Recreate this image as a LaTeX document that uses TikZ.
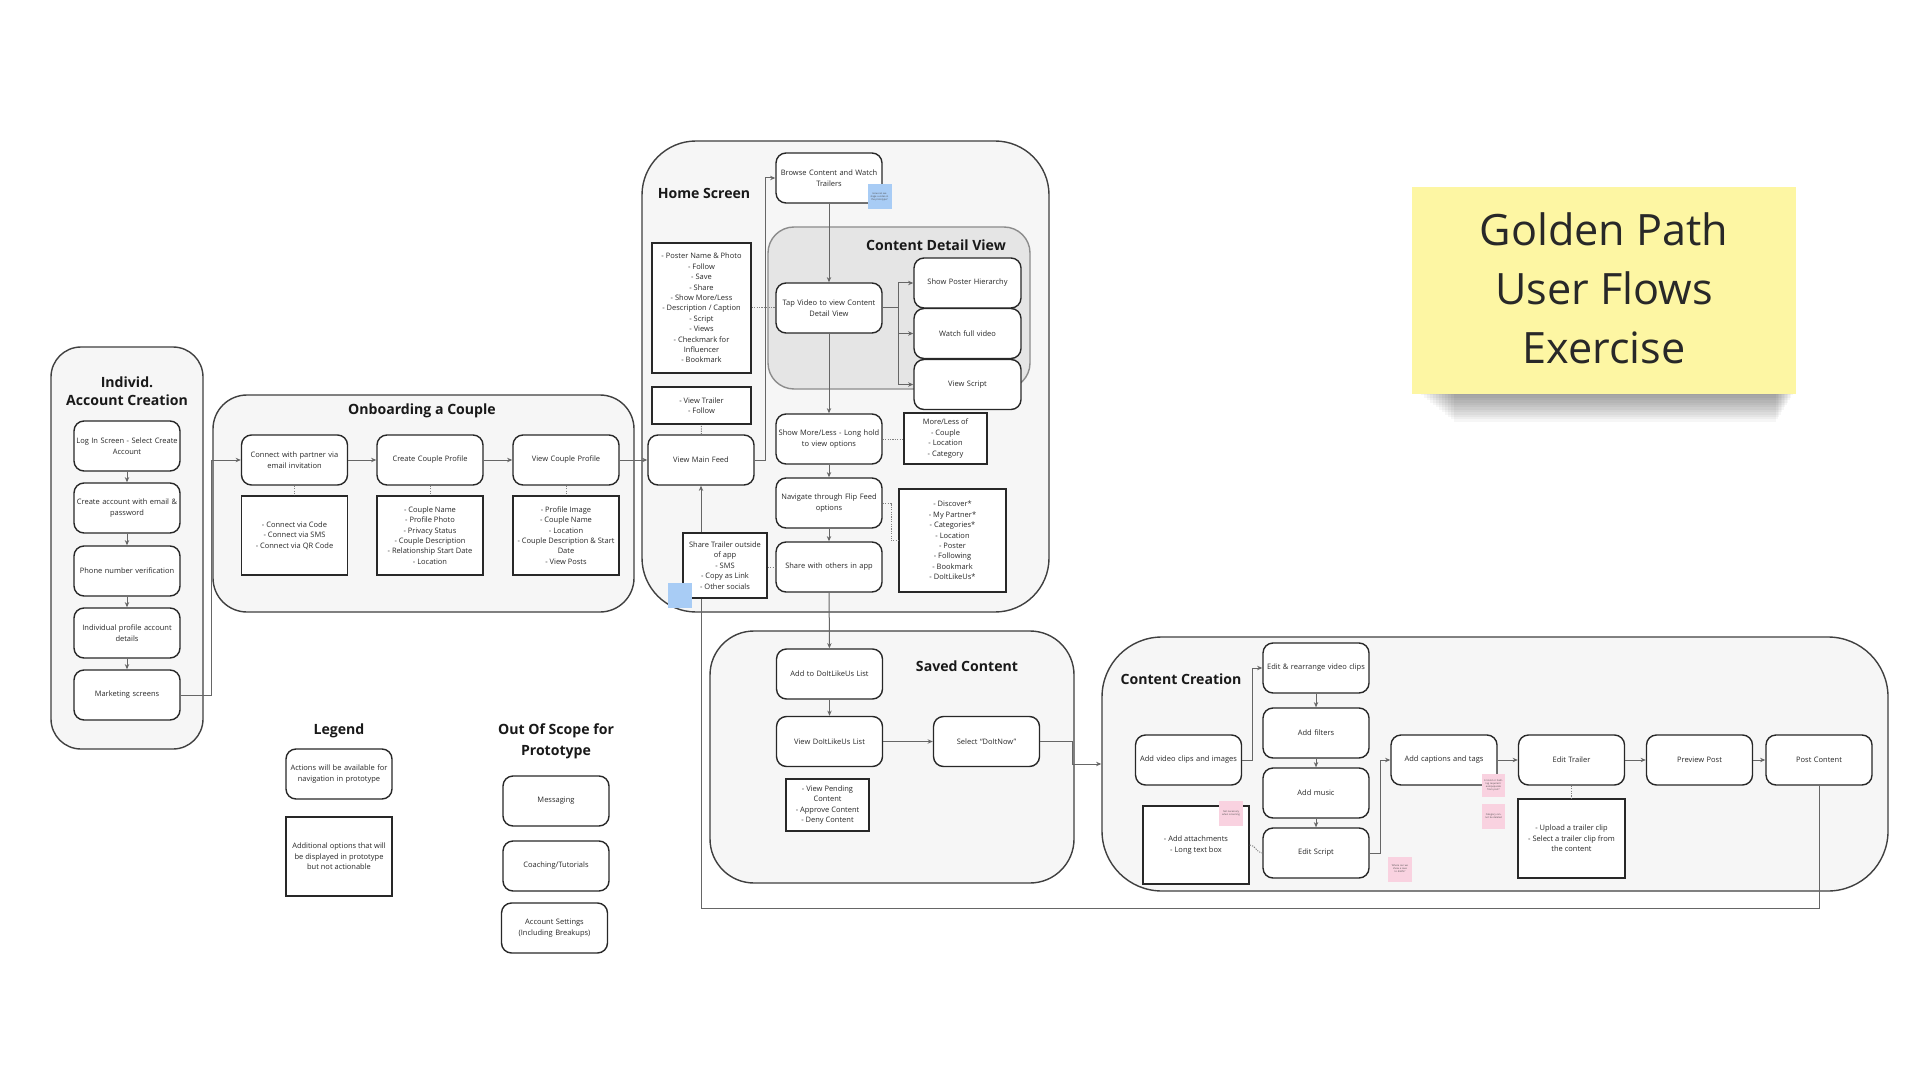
\documentclass[tikz,border=0pt]{standalone}
\usepackage{fontspec}
\setmainfont{Open Sans}
\usetikzlibrary{arrows.meta,calc}
\pgfdeclarelayer{back}
\pgfdeclarelayer{mid}
\pgfsetlayers{back,mid,main}
\definecolor{pinkS}{RGB}{249,210,224}
\definecolor{blueS}{RGB}{168,204,245}
\definecolor{yelS}{RGB}{253,246,163}
\definecolor{contfill}{RGB}{246,246,246}
\definecolor{cdvfill}{RGB}{229,229,229}
\definecolor{ink}{RGB}{40,40,40}
\begin{document}
\begin{tikzpicture}[x=0.5pt,y=-0.5pt,
  every node/.style={font=\fontsize{3.75}{5.2}\selectfont, text=ink},
  act/.style={draw=ink, line width=0.7pt, rounded corners=5pt, fill=white, align=center,
    minimum width=53pt, minimum height=25pt, text width=53pt, inner sep=0pt},
  opt/.style={draw=ink, line width=0.7pt, fill=white, align=center, inner sep=0pt},
  cont/.style={draw=black!75, line width=0.7pt, fill=contfill, inner sep=0pt},
  ttl/.style={font=\fontsize{7.05}{9}\selectfont\bfseries, text=black!90, align=center},
  flow/.style={draw=black!60, line width=0.5pt, -{Stealth[length=2.6pt,width=2.2pt]}},
  plain/.style={draw=black!60, line width=0.5pt},
  link/.style={draw=black!50, line width=0.5pt, dash pattern=on 0.6pt off 0.6pt},
  sticky/.style={fill=#1, minimum width=12pt, minimum height=12.5pt, inner sep=0.3pt,
    text width=11pt, align=center, font=\fontsize{1.2}{1.5}\selectfont, text=black!70}
]
\begin{pgfonlayer}{back}
\path[use as bounding box, fill=white] (0,0) rectangle (1920,1080);
% ---------- containers ----------
\node[cont, rounded corners=15pt, minimum width=76pt, minimum height=201pt] (ind) at (127,548) {};
\node[cont, rounded corners=17pt, minimum width=210.5pt, minimum height=108.5pt] (onb) at (423.5,503.5) {};
\node[cont, rounded corners=27pt, minimum width=203.5pt, minimum height=235.5pt] (home) at (845.5,376.5) {};
\node[cont, draw=black!45, fill=cdvfill, rounded corners=13pt, minimum width=131pt, minimum height=81pt] (cdv) at (899,308) {};
\node[cont, rounded corners=22pt, minimum width=182pt, minimum height=126pt] (saved) at (892,757) {};
\node[cont, rounded corners=30pt, minimum width=393pt, minimum height=127pt] (cc) at (1495,764) {};
\end{pgfonlayer}

% ---------- titles ----------
\node[ttl] (tind) at (127,391) {Individ.\\Account Creation};
\node[ttl] (tonb) at (422,411) {Onboarding a Couple};
\node[ttl] (thome) at (704,193) {Home Screen};
\node[ttl] (tcdv) at (936,245) {Content Detail View};
\node[ttl] (tsav) at (967,666) {Saved Content};
\node[ttl] (tcc) at (1181,679) {Content Creation};
\node[ttl] (tleg) at (339,731) {Legend};
\node[ttl, font=\fontsize{7.05}{10.5}\selectfont\bfseries] (toos) at (556,741.5) {Out Of Scope for\\Prototype};

% ---------- coordinates for routing ----------
\coordinate (jx) at (211,0);
\coordinate (hx) at (765,0);
\coordinate (tx) at (898,0);
\coordinate (nx) at (891,0);
\coordinate (ry) at (0,908);
\coordinate (sx) at (1072,0);
\coordinate (ax) at (1252,0);
\coordinate (ex) at (1380,0);

% ---------- action nodes ----------
\node[act] (i1) at (127,446) {Log In Screen - Select Create\\Account};
\node[act] (i2) at (127,508) {Create account with email \&\\password};
\node[act] (i3) at (127,571) {Phone number verification};
\node[act] (i4) at (127,633) {Individual profile account\\details};
\node[act] (i5) at (127,695) {Marketing screens};

\node[act] (o1) at (294.5,460) {Connect with partner via\\email invitation};
\node[act] (o2) at (430,460) {Create Couple Profile};
\node[act] (o3) at (566,460) {View Couple Profile};
\node[opt, minimum width=53pt, minimum height=39.5pt] (o1d) at (294.5,535.5) {- Connect via Code\\- Connect via SMS\\- Connect via QR Code};
\node[opt, minimum width=53pt, minimum height=39.5pt] (o2d) at (430,535.5) {- Couple Name\\- Profile Photo\\- Privacy Status\\- Couple Description\\- Relationship Start Date\\- Location};
\node[opt, minimum width=53pt, minimum height=39.5pt] (o3d) at (566,535.5) {- Profile Image\\- Couple Name\\- Location\\- Couple Description \& Start\\Date\\- View Posts};

\node[act] (browse) at (829,178) {Browse Content and Watch\\Trailers};
\node[act] (tap) at (829,308) {Tap Video to view Content\\Detail View};
\node[act, minimum width=53.5pt] (sph) at (967.5,283) {Show Poster Hierarchy};
\node[act, minimum width=53.5pt] (wfv) at (967.5,333.5) {Watch full video};
\node[act, minimum width=53.5pt] (vs) at (967.5,384.5) {View Script};
\node[opt, minimum width=49.5pt, minimum height=65pt] (plist) at (701.5,308) {- Poster Name \& Photo\\- Follow\\- Save\\- Share\\- Show More/Less\\- Description / Caption\\- Script\\- Views\\- Checkmark for\\Influencer\\- Bookmark};
\node[opt, minimum width=49.5pt, minimum height=18.5pt] (tlist) at (701.5,405.5) {- View Trailer\\- Follow};
\node[act] (vmf) at (701,460) {View Main Feed};
\node[act] (sml) at (829,439) {Show More/Less - Long hold\\to view options};
\node[opt, minimum width=41.5pt, minimum height=25.5pt] (mlo) at (945.5,438.5) {More/Less of\\- Couple\\- Location\\- Category};
\node[act] (nav) at (829,503) {Navigate through Flip Feed\\options};
\node[opt, minimum width=53.5pt, minimum height=51.5pt] (disc) at (952.5,540.5) {- Discover*\\- My Partner*\\- Categories*\\- Location\\- Poster\\- Following\\- Bookmark\\- DoItLikeUs*};
\node[act] (swo) at (829,567) {Share with others in app};
\node[opt, minimum width=42pt, minimum height=32.5pt] (stoa) at (725,565.5) {Share Trailer outside\\of app\\- SMS\\- Copy as Link\\- Other socials};

\node[act] (add) at (829.5,674) {Add to DoItLikeUs List};
\node[act] (view) at (829.5,741.5) {View DoItLikeUs List};
\node[act] (sel) at (986.5,741.5) {Select ``DoItNow''};
\node[opt, minimum width=41.5pt, minimum height=26pt] (pend) at (827.5,805) {- View Pending\\Content\\- Approve Content\\- Deny Content};

\node[act] (avc) at (1188.5,760) {Add video clips and images};
\node[act] (edr) at (1316,668) {Edit \& rearrange video clips};
\node[act] (flt) at (1316,733) {Add filters};
\node[act] (mus) at (1316,793) {Add music};
\node[act] (es) at (1316,853) {Edit Script};
\node[opt, minimum width=53pt, minimum height=39pt] (att) at (1196,845) {- Add attachments\\- Long text box};
\node[act] (cap) at (1444,760) {Add captions and tags};
\node[act] (et) at (1571.5,760) {Edit Trailer};
\node[opt, minimum width=53.5pt, minimum height=39.5pt] (tbox) at (1571.5,838.5) {- Upload a trailer clip\\- Select a trailer clip from\\the content};
\node[act] (pp) at (1699.5,760) {Preview Post};
\node[act] (pc) at (1819,760) {Post Content};

\node[act] (lg1) at (339,774) {Actions will be available for\\navigation in prototype};
\node[opt, minimum width=53pt, minimum height=39.5pt] (lg2) at (339,856.5) {Additional options that will\\be displayed in prototype\\but not actionable};
\node[act] (msg) at (556,801) {Messaging};
\node[act] (coach) at (556,866) {Coaching/Tutorials};
\node[act] (acct) at (554.5,928) {Account Settings\\(Including Breakups)};

% return loop, behind the boxes
\begin{pgfonlayer}{mid}
\draw[flow] (pc.south) -- (pc.south |- ry) -| (vmf.south);
\end{pgfonlayer}

% ---------- connectors ----------
\draw[flow] (i1) -- (i2);
\draw[flow] (i2) -- (i3);
\draw[flow] (i3) -- (i4);
\draw[flow] (i4) -- (i5);
\draw[flow] (i5.east) -- (i5.east -| jx) |- (o1.west);
\draw[flow] (o1) -- (o2);
\draw[flow] (o2) -- (o3);
\draw[flow] (o3) -- (vmf);
\draw[link] (o1) -- (o1d);
\draw[link] (o2) -- (o2d);
\draw[link] (o3) -- (o3d);

\draw[flow] (vmf.east) -- (vmf.east -| hx) |- (browse.west);
\draw[flow] (browse) -- (tap);
\draw[plain] (tap.east) -- (tap.east -| tx);
\draw[flow] (tap.east -| tx) |- (sph.west);
\draw[flow] (tap.east -| tx) |- (wfv.west);
\draw[flow] (tap.east -| tx) |- (vs.west);
\draw[flow] (tap) -- (sml);
\draw[flow] (sml) -- (nav);
\draw[flow] (nav) -- (swo);
\draw[flow] (swo) -- (add);
\draw[link] (plist.east) -- (tap.west);
\draw[link] (vmf) -- (tlist);
\draw[link] (sml.east) -- (mlo.west |- sml.east);
\draw[link] (nav.east) -- (nav.east -| nx) |- (disc.west);
\draw[link] (stoa.east |- swo.west) -- (swo.west);

\draw[flow] (add) -- (view);
\draw[flow] (view) -- (sel);
\draw[flow] (sel.east) -- (sel.east -| sx) |- (cc.west);

\draw[flow] (avc.east) -- (avc.east -| ax) |- (edr.west);
\draw[flow] (edr) -- (flt);
\draw[flow] (flt) -- (mus);
\draw[flow] (mus) -- (es);
\draw[link] (att.east) to[out=0,in=180] (es.west);
\draw[flow] (es.east) -- (es.east -| ex) |- (cap.west);
\draw[flow] (cap) -- (et);
\draw[flow] (et) -- (pp);
\draw[flow] (pp) -- (pc);
\draw[link] (et) -- (tbox);

% ---------- small sticky notes ----------
\node[sticky=blueS] (sb1) at (879.5,196.5) {How can we stage a video in the prototype?};
\node[sticky=blueS] (sb2) at (680,595.5) {};
\node[sticky=pinkS] (sp1) at (1231,813) {Not necessary when screening};
\node[sticky=pinkS, minimum width=11pt] (sp2) at (1400,869) {Where can we show a save to drafts?};
\node[sticky=pinkS, minimum width=11.5pt, minimum height=11.5pt] (sp3) at (1493.5,785.5) {Is trend or hashtag required / autopopulate from post?};
\node[sticky=pinkS, minimum width=11.5pt] (sp4) at (1493.5,816.5) {Category cannot be deleted};

% ---------- big sticky ----------
\foreach \i in {1,...,12} {
  \fill[black, opacity=0.035] (1418+3*\i,200) rectangle (1794-1.5*\i,393+2.4*\i);
}
\node[fill=yelS, minimum width=192pt, minimum height=103.5pt, inner sep=0pt] (gp) at (1604,290.5) {};
\node[align=center, font=\fontsize{21.6}{29.5}\selectfont, text=ink] (gpt) at (1604,288.5)
  {Golden Path\\User Flows\\Exercise};
\end{tikzpicture}
\end{document}
